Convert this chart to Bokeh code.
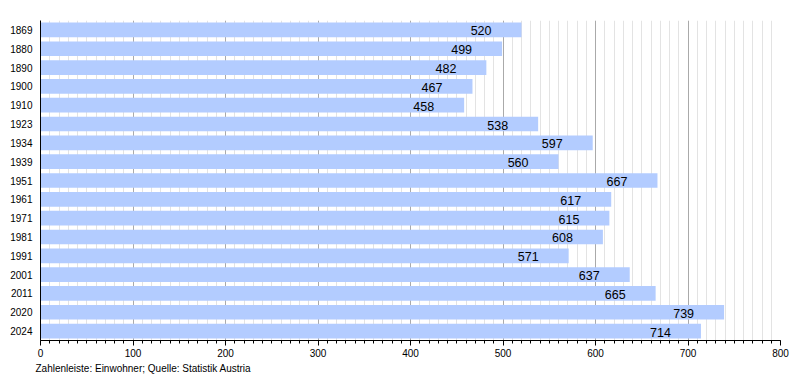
from bokeh.plotting import figure
from bokeh.models import ColumnDataSource, SingleIntervalTicker, Title, Range1d
from bokeh.embed import file_html
from bokeh.resources import INLINE

years = ["1869", "1880", "1890", "1900", "1910", "1923", "1934", "1939", "1951",
         "1961", "1971", "1981", "1991", "2001", "2011", "2020", "2024"]
population = [520, 499, 482, 467, 458, 538, 597, 560, 667,
              617, 615, 608, 571, 637, 665, 739, 714]
x_ticks_interval = 100
footnote = "Zahlenleiste: Einwohner; Quelle: Statistik Austria"

FONT = "Liberation Sans"

src = ColumnDataSource(dict(year=years, pop=population, lab=[str(v) for v in population]))

p = figure(width=800, height=380, y_range=list(reversed(years)),
           x_range=Range1d(0, 800), output_backend="svg", toolbar_location=None,
           min_border_left=40, min_border_right=20, min_border_top=20, min_border_bottom=40)
p.outline_line_color = None
p.background_fill_color = "white"

ticker = SingleIntervalTicker(interval=x_ticks_interval, num_minor_ticks=10)
p.xaxis.ticker = ticker
p.xgrid.ticker = ticker
p.xgrid.grid_line_color = "#aaaaaa"
p.xgrid.minor_grid_line_color = "#e3e3e3"
p.ygrid.grid_line_color = None

p.hbar(y="year", left=0, right="pop", height=0.78, source=src,
       fill_color="#b3ccff", line_color=None)
p.text(x="pop", y="year", text="lab", source=src, x_offset=-30, y_offset=1,
       text_align="right", text_baseline="middle", text_font_size="12.5px",
       text_font={"value": FONT}, text_color="black")

xa = p.xaxis[0]
xa.axis_line_color = "black"
xa.major_tick_line_color = "black"
xa.minor_tick_line_color = "black"
xa.major_tick_in = 0
xa.major_tick_out = 5
xa.minor_tick_in = 0
xa.minor_tick_out = 3
xa.major_label_standoff = 3
xa.major_label_text_font = FONT
xa.major_label_text_font_size = "10px"
xa.major_label_text_color = "black"

ya = p.yaxis[0]
ya.axis_line_color = "black"
ya.major_tick_line_color = None
ya.minor_tick_line_color = None
ya.major_tick_in = 0
ya.major_tick_out = 0
ya.major_label_standoff = 8
ya.major_label_text_font = FONT
ya.major_label_text_font_size = "10px"
ya.major_label_text_color = "black"

note = Title(text=footnote, align="left", offset=-5, standoff=2,
             text_font=FONT, text_font_size="10px", text_font_style="normal",
             text_color="black")
p.add_layout(note, "below")

open("out.html", "w").write(file_html(p, INLINE))
